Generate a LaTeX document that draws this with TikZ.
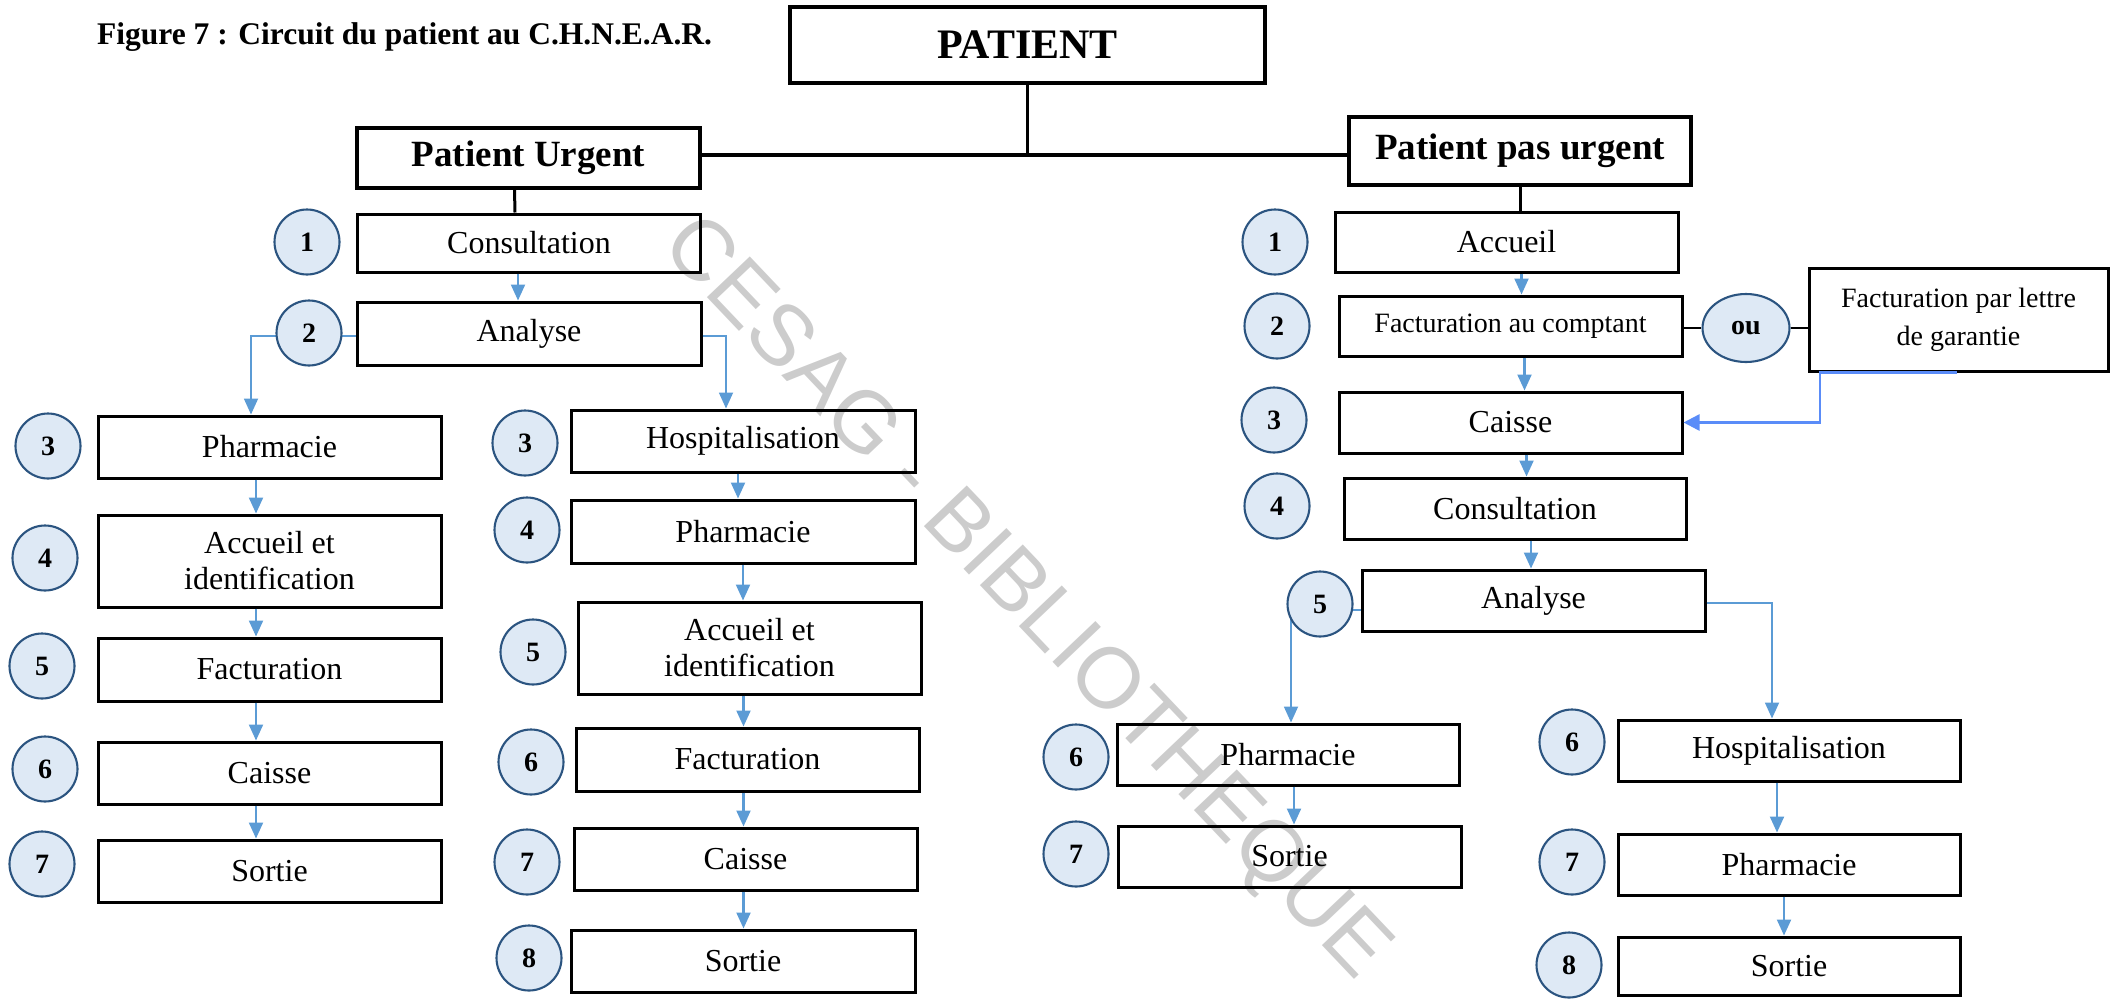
\documentclass[tikz,border=0pt]{standalone}
\usepackage{fontspec}
\setmainfont{Liberation Serif}
\newfontfamily\wmfont{Liberation Sans}
\usetikzlibrary{arrows.meta,shapes.geometric}
\definecolor{arrblue}{RGB}{91,155,213}
\definecolor{brblue}{RGB}{90,140,248}
\definecolor{cfill}{RGB}{222,233,245}
\definecolor{cdraw}{RGB}{43,84,128}
\begin{document}
\begin{tikzpicture}[x=1pt,y=-1pt,
 box/.style={draw=black, line width=3pt, rectangle, minimum width=343pt, minimum height=62pt, inner sep=0pt, align=center, font=\fontsize{32}{36}\selectfont},
 head/.style={box, line width=3.5pt, font=\fontsize{37}{40}\selectfont\bfseries},
 num/.style={circle, draw=cdraw, fill=cfill, line width=2.1pt, minimum size=65pt, inner sep=0pt, font=\fontsize{28}{30}\selectfont\bfseries},
 arr/.style={draw=arrblue, line width=2.2pt, -{Triangle[length=16pt,width=14pt]}},
 arrb/.style={draw=brblue, line width=2.6pt, -{Triangle[length=16pt,width=16pt]}},
 blk/.style={draw=black, line width=3pt},
 thin/.style={draw=black, line width=1.6pt},
]
\useasboundingbox (0,0) rectangle (2111,998);
% watermark
\node[rotate=-46.5, text=black!20, font=\wmfont\fontsize{86}{94}\selectfont] (wm) at (1024,600) {CESAG - BIBLIOTHEQUE};
% title
\node[anchor=base west, inner sep=0pt, font=\fontsize{31.5}{34}\selectfont\bfseries] (title) at (97,45) {Figure 7 : Circuit du patient au C.H.N.E.A.R.};
% top
\node[box, line width=4pt, minimum width=475pt, minimum height=76pt, font=\fontsize{42}{46}\selectfont\bfseries] (patient) at (1027.5,45) {PATIENT};
\node[head, minimum height=60pt] (pu) at (528.5,158) {Patient Urgent};
\node[head, minimum width=342pt, minimum height=68pt] (ppu) at (1520,151) {Patient pas urgent};
% urgent column
\node[box, minimum height=58pt] (cons1) at (529,243) {Consultation};
\node[box, minimum width=344pt, minimum height=63pt] (ana1) at (529,333.5) {Analyse};
\node[box] (pharmL) at (269.5,447) {Pharmacie};
\node[box, minimum height=92pt] (accL) at (269.5,561) {Accueil et\\identification};
\node[box, minimum height=63pt] (factL) at (269.5,669.5) {Facturation};
\node[box] (caisL) at (269.5,773) {Caisse};
\node[box] (sortL) at (269.5,871) {Sortie};
\node[box, minimum width=344pt] (hospM) at (743,441) {Hospitalisation};
\node[box, minimum width=344pt, minimum height=63pt] (pharmM) at (743,531.5) {Pharmacie};
\node[box, minimum height=92pt] (accM) at (749.5,648) {Accueil et\\identification};
\node[box, minimum height=63pt] (factM) at (747.5,759.5) {Facturation};
\node[box] (caisM) at (745.5,859) {Caisse};
\node[box, minimum width=344pt] (sortM) at (743,961) {Sortie};
% non urgent column
\node[box, minimum height=60pt] (accR) at (1506.5,242) {Accueil};
\node[box, minimum height=60pt, font=\fontsize{28}{32}\selectfont] (fcR) at (1510.5,326) {Facturation au comptant};
\node[box, minimum width=299pt, minimum height=103pt, font=\fontsize{28}{38}\selectfont] (flg) at (1958.5,319.5) {Facturation par lettre\\de garantie};
\node[box, minimum height=61pt] (caisR) at (1510.5,422.5) {Caisse};
\node[box, minimum width=342pt, minimum height=61pt] (consR) at (1515,508.5) {Consultation};
\node[box, minimum height=61pt] (anaR) at (1533.5,600.5) {Analyse};
\node[box, minimum width=342pt, minimum height=61pt] (pharmR1) at (1288,754.5) {Pharmacie};
\node[box, minimum height=61pt] (sortR1) at (1289.5,856.5) {Sortie};
\node[box, minimum width=342pt, minimum height=61pt] (hospR) at (1789,750.5) {Hospitalisation};
\node[box, minimum width=342pt, minimum height=61pt] (pharmR2) at (1789,864.5) {Pharmacie};
\node[box, minimum width=342pt, minimum height=58pt] (sortR2) at (1789,966) {Sortie};
\node[num, ellipse, minimum width=87pt, minimum height=68pt] (ou) at (1746,328) {ou};
% black connectors
\coordinate (hl) at (1028,155);
\draw[blk] (patient.south) -- (patient.south |- hl);
\draw[draw=black, line width=4.5pt] (pu.east |- hl) -- (ppu.west |- hl);
\draw[blk] ([xshift=-14pt]pu.south) -- ([xshift=-14pt]cons1.north);
\draw[blk] (ppu.south) -- (ppu.south |- accR.north);
\draw[thin] (fcR.east |- ou.west) -- (ou.west);
\draw[thin] (ou.east) -- (ou.east -| flg.west);
% blue arrows urgent
\draw[arr] ([xshift=-11pt]cons1.south) -- ([xshift=-11pt]ana1.north);
\draw[arr, line width=1.8pt] ([yshift=-2.5pt]ana1.west) -| ([xshift=-18.5pt]pharmL.north);
\draw[arr, line width=1.8pt] ([yshift=-2.5pt]ana1.east) -| ([xshift=-17pt]hospM.north);
\draw[arr] ([xshift=-13.5pt]pharmL.south) -- ([xshift=-13.5pt]accL.north);
\draw[arr] ([xshift=-13.5pt]accL.south) -- ([xshift=-13.5pt]factL.north);
\draw[arr] ([xshift=-13.5pt]factL.south) -- ([xshift=-13.5pt]caisL.north);
\draw[arr] ([xshift=-13.5pt]caisL.south) -- ([xshift=-13.5pt]sortL.north);
\draw[arr] ([xshift=-5pt]hospM.south) -- ([xshift=-5pt]hospM.south |- pharmM.north);
\draw[arr] (pharmM.south) -- (pharmM.south |- accM.north);
\draw[arr] ([xshift=-6pt]accM.south) -- ([xshift=-6pt]accM.south |- factM.north);
\draw[arr] ([xshift=-4pt]factM.south) -- ([xshift=-4pt]factM.south |- caisM.north);
\draw[arr] ([xshift=-2pt]caisM.south) -- ([xshift=-2pt]caisM.south |- sortM.north);
% blue arrows non urgent
\draw[arr] ([xshift=15pt]accR.south) -- ([xshift=15pt]accR.south |- fcR.north);
\draw[arr] ([xshift=14pt]fcR.south) -- ([xshift=14pt]fcR.south |- caisR.north);
\draw[arr] ([xshift=16pt]caisR.south) -- ([xshift=16pt]caisR.south |- consR.north);
\draw[arr] ([xshift=16pt]consR.south) -- ([xshift=16pt]consR.south |- anaR.north);
\draw[arrb] ([xshift=-1.5pt]flg.south) -- ([xshift=-138.5pt]flg.south) |- (caisR.east);
\draw[arr, line width=1.8pt] ([yshift=-9.5pt]anaR.west) -| ([xshift=3pt]pharmR1.north);
\draw[arr, line width=1.8pt] ([yshift=-2.5pt]anaR.east) -| ([xshift=-17pt]hospR.north);
\draw[arr] ([xshift=6pt]pharmR1.south) -- ([xshift=6pt]pharmR1.south |- sortR1.north);
\draw[arr] ([xshift=-12pt]hospR.south) -- ([xshift=-12pt]hospR.south |- pharmR2.north);
\draw[arr] ([xshift=-5pt]pharmR2.south) -- ([xshift=-5pt]pharmR2.south |- sortR2.north);
% number circles
\node[num] (u1) at (307,242) {1};
\node[num] (u2) at (309,333) {2};
\node[num] (l3) at (48,446) {3};
\node[num] (l4) at (45,558) {4};
\node[num] (l5) at (42,666) {5};
\node[num] (l6) at (45,769) {6};
\node[num] (l7) at (42,864) {7};
\node[num] (m3) at (525,443) {3};
\node[num] (m4) at (527,530) {4};
\node[num] (m5) at (533,652) {5};
\node[num] (m6) at (531,762) {6};
\node[num] (m7) at (527,862) {7};
\node[num] (m8) at (529,958) {8};
\node[num] (r1) at (1275,242) {1};
\node[num] (r2) at (1277,326) {2};
\node[num] (r3) at (1274,420) {3};
\node[num] (r4) at (1277,506) {4};
\node[num] (r5) at (1320,604) {5};
\node[num] (a6) at (1076,757) {6};
\node[num] (a7) at (1076,854) {7};
\node[num] (b6) at (1572,742) {6};
\node[num] (b7) at (1572,862) {7};
\node[num] (b8) at (1569,965) {8};
\end{tikzpicture}
\end{document}
